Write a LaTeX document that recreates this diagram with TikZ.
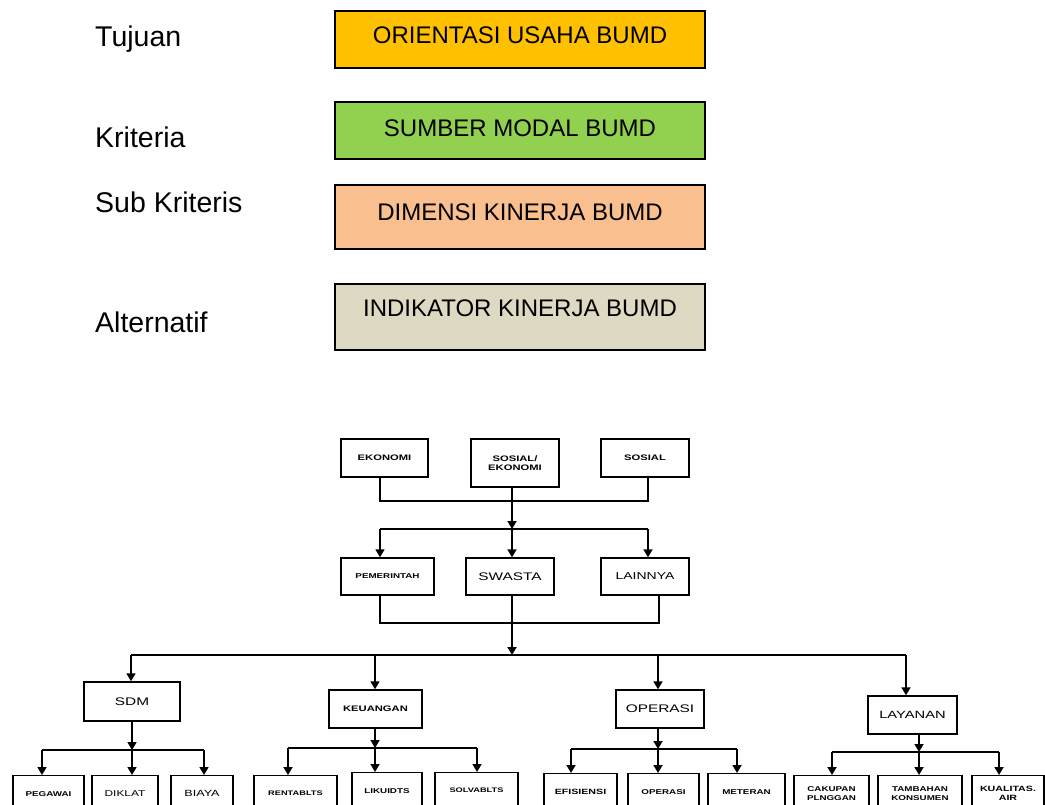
\documentclass[tikz,border=0pt]{standalone}
\usepackage{fontspec}
\setmainfont{Liberation Sans}
\newfontfamily\widefont[FakeStretch=1.4]{Liberation Sans}
\usepackage{tikz}
\usetikzlibrary{arrows.meta, positioning}
\definecolor{oranyebumd}{RGB}{255,192,0}
\definecolor{hijaubumd}{RGB}{146,208,80}
\definecolor{persikbumd}{RGB}{250,191,143}
\definecolor{krembumd}{RGB}{221,217,195}

\begin{document}
\begin{tikzpicture}[x=1pt, y=-1pt, >={Triangle[length=8pt,width=9pt]},
      tag/.style={anchor=base west, inner sep=0pt,
                  font=\fontsize{28.5}{30}\selectfont},
      lvl/.style={draw, line width=1.5pt, minimum width=370pt, inner sep=0pt,
                  font=\fontsize{24}{26}\selectfont,
                  text height=17.5pt, text depth=#1},
      blk/.style={draw, line width=1.4pt, inner sep=0pt, align=center,
                  font=\widefont\fontsize{11}{12}\selectfont},
      sml/.style={blk, font=\widefont\bfseries\fontsize{7}{8.5}\selectfont},
      kid/.style={sml, anchor=north, minimum height=36pt},
      wire/.style={line width=1.7pt}]

    \clip (0,0) rectangle (1045,805);

    % hierarchy levels
    \node[tag] (tujuan) at (95,47) {Tujuan};
    \node[tag] (kriteria) at (95,148) {Kriteria};
    \node[tag] (subkrit) at (95,213) {Sub Kriteris};
    \node[tag] (altern) at (95,333) {Alternatif};

    \node[lvl=9pt, fill=oranyebumd, minimum height=57pt] (orientasi) at (520,39.5) {ORIENTASI USAHA BUMD};
    \node[lvl=5pt, fill=hijaubumd, minimum height=57pt] (sumber) at (520,130.5) {SUMBER MODAL BUMD};
    \node[lvl=10pt, fill=persikbumd, minimum height=64pt] (dimensi) at (520,217) {DIMENSI KINERJA BUMD};
    \node[lvl=18pt, fill=krembumd, minimum height=66pt] (indikator) at (520,317) {INDIKATOR KINERJA BUMD};

    % orientasi
    \node[sml, font=\widefont\bfseries\fontsize{8}{9.5}\selectfont, minimum width=87pt, minimum height=38pt] (ekonomi) at (384.5,458) {EKONOMI};
    \node[sml, font=\widefont\bfseries\fontsize{8}{9.5}\selectfont, minimum width=88pt, minimum height=48pt] (sosek) at (515,463) {SOSIAL/\\EKONOMI};
    \node[sml, font=\widefont\bfseries\fontsize{8}{9.5}\selectfont, minimum width=88pt, minimum height=38pt] (sosial) at (645,458) {SOSIAL};

    % sumber modal
    \node[sml, minimum width=93pt, minimum height=37pt] (pemerintah) at (387.5,576.5) {PEMERINTAH};
    \node[blk, minimum width=88pt, minimum height=37pt] (swasta) at (510,576.5) {SWASTA};
    \node[blk, font=\widefont\fontsize{10}{11}\selectfont, minimum width=88pt, minimum height=37pt] (lainnya) at (645,576.5) {LAINNYA};

    % dimensi
    \node[blk, minimum width=96pt, minimum height=39pt] (sdm) at (132,701.5) {SDM};
    \node[sml, font=\widefont\bfseries\fontsize{8}{9.5}\selectfont, minimum width=93pt, minimum height=38pt] (keuangan) at (375.5,709) {KEUANGAN};
    \node[blk, minimum width=88pt, minimum height=38pt] (operasi) at (660,709) {OPERASI};
    \node[blk, font=\widefont\fontsize{10.5}{12}\selectfont, minimum width=89pt, minimum height=38pt] (layanan) at (912.5,715) {LAYANAN};

    % indikator
    \node[kid, minimum width=71pt] (pegawai) at (48.5,775) {PEGAWAI};
    \node[kid, font=\widefont\fontsize{8.5}{10}\selectfont, minimum width=66pt] (diklat) at (125,775) {DIKLAT};
    \node[kid, font=\widefont\fontsize{9}{10}\selectfont, minimum width=62pt] (biaya) at (202,775) {BIAYA};
    \node[kid, font=\widefont\bfseries\fontsize{6.6}{8}\selectfont, minimum width=83pt] (rentab) at (295.5,775) {RENTABLTS};
    \node[kid, minimum width=70pt] (likuid) at (387,772) {LIKUIDTS};
    \node[kid, font=\widefont\bfseries\fontsize{6.6}{8}\selectfont, minimum width=83pt] (solvab) at (476.5,772) {SOLVABLTS};
    \node[kid, font=\widefont\bfseries\fontsize{7.6}{9}\selectfont, minimum width=73pt] (efisiensi) at (580.5,773) {EFISIENSI};
    \node[kid, minimum width=71pt] (opr) at (663.5,773) {OPERASI};
    \node[kid, minimum width=77pt] (meteran) at (746.5,773) {METERAN};
    \node[kid, minimum width=75pt] (cakupan) at (831.5,775) {CAKUPAN\\PLNGGAN};
    \node[kid, minimum width=84pt] (tambahan) at (920,775) {TAMBAHAN\\KONSUMEN};
    \node[kid, font=\widefont\bfseries\fontsize{7.6}{9}\selectfont, minimum width=72pt] (kualitas) at (1008,775) {KUALITAS.\\AIR};

    % junctions
    \coordinate (m1) at (512,501);
    \coordinate (b2) at (512,529);
    \coordinate (b3) at (512,623);
    \coordinate (b4) at (512,655);
    \coordinate (j1) at (380,623);
    \coordinate (j2) at (659,623);
    \coordinate (c1) at (131,655);
    \coordinate (c2) at (375,655);
    \coordinate (c3) at (658,655);
    \coordinate (c4) at (906,655);
    \coordinate (s1) at (132,750);
    \coordinate (s2) at (375,748);
    \coordinate (s3) at (658,749);
    \coordinate (s4) at (919,752);

    % orientasi -> sumber modal
    \draw[wire] (ekonomi.south -| 380,0) |- (m1) -| (sosial.south -| 648,0);
    \draw[wire, ->] (sosek.south -| m1) -- (b2);
    \draw[wire] (380,529) -- (648,529);
    \draw[wire, ->] (380,529) -- (pemerintah.north -| 380,0);
    \draw[wire, ->] (b2) -- (swasta.north -| b2);
    \draw[wire, ->] (648,529) -- (lainnya.north -| 648,0);

    % sumber modal -> dimensi
    \draw[wire] (pemerintah.south -| j1) -- (j1) -- (j2) -- (lainnya.south -| j2);
    \draw[wire] (swasta.south -| b3) -- (b3);
    \draw[wire, ->] (b3) -- (b4);
    \draw[wire] (c1) -- (c4);
    \draw[wire, ->] (c1) -- (sdm.north -| c1);
    \draw[wire, ->] (c2) -- (keuangan.north -| c2);
    \draw[wire, ->] (c3) -- (operasi.north -| c3);
    \draw[wire, ->] (c4) -- (layanan.north -| c4);

    % dimensi -> indikator
    \draw[wire, ->] (sdm.south -| s1) -- (s1);
    \draw[wire] (42,750) -- (204,750);
    \foreach \x/\k in {42/pegawai, 132/diklat, 204/biaya}
      \draw[wire, ->] (\x,750) -- (\k.north -| \x,0);

    \draw[wire, ->] (keuangan.south -| s2) -- (s2);
    \draw[wire] (288,748) -- (477,748);
    \foreach \x/\k in {288/rentab, 375/likuid, 477/solvab}
      \draw[wire, ->] (\x,748) -- (\k.north -| \x,0);

    \draw[wire, ->] (operasi.south -| s3) -- (s3);
    \draw[wire] (571,749) -- (737,749);
    \foreach \x/\k in {571/efisiensi, 658/opr, 737/meteran}
      \draw[wire, ->] (\x,749) -- (\k.north -| \x,0);

    \draw[wire, ->] (layanan.south -| s4) -- (s4);
    \draw[wire] (832,752) -- (999,752);
    \foreach \x/\k in {832/cakupan, 919/tambahan, 999/kualitas}
      \draw[wire, ->] (\x,752) -- (\k.north -| \x,0);
\end{tikzpicture}
\end{document}
